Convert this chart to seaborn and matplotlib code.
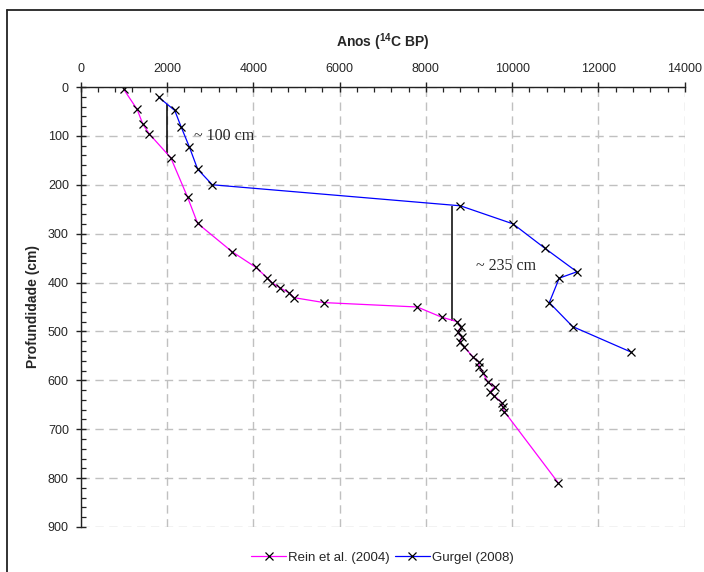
"""Depth vs radiocarbon age profile (Rein et al. 2004 vs Gurgel 2008)"""

import numpy as np
import pandas as pd
import seaborn as sns
import matplotlib.pyplot as plt
from matplotlib.lines import Line2D
from matplotlib.ticker import MultipleLocator

# data
rein_age = [1000, 1310, 1440, 1590, 2090, 2480, 2710, 3510, 4060, 4320, 4430,
            4620, 4830, 4950, 5640, 7800, 8370, 8730, 8810, 8740, 8830, 8790,
            8890, 9100, 9220, 9240, 9320, 9430, 9600, 9490, 9590, 9760, 9780,
            9820, 11070]
rein_depth = [5, 46, 76, 96, 145, 226, 279, 337, 369, 390, 400,
              411, 421, 431, 441, 450, 471, 480, 491, 502, 511, 522,
              532, 553, 562, 572, 584, 603, 613, 623, 632, 646, 655,
              664, 810]

gurgel_age = [1810, 2180, 2330, 2520, 2710, 3050, 8800, 10020, 10760, 11500,
              11090, 10860, 11400, 12750]
gurgel_depth = [21, 48, 82, 123, 168, 200, 243, 280, 330, 378,
                391, 441, 490, 542]

gap_x = [2000, 8610]
gap_top = [35, 243]
gap_bottom = [138, 478]
gap_labels = ['~ 100 cm', '~ 235 cm']
gap_label_x = [2620, 9160]
gap_label_y = [100, 366]

sns.set_style('white')
plt.rcParams['font.family'] = ['Liberation Sans', 'DejaVu Sans']
plt.rcParams['mathtext.fontset'] = 'custom'
plt.rcParams['mathtext.bf'] = 'Liberation Sans:bold'

rein = pd.DataFrame({'age': rein_age, 'depth': rein_depth})
gurgel = pd.DataFrame({'age': gurgel_age, 'depth': gurgel_depth})

fig = plt.figure(figsize=(7.04, 5.72), dpi=100)
ax = fig.add_axes([0.1146, 0.0787, 0.8581, 0.7692])

line_kw = dict(sort=False, estimator=None, marker='x', markersize=6,
               markeredgecolor='black', markeredgewidth=0.9, linewidth=0.9, ax=ax)
sns.lineplot(data=rein, x='age', y='depth', color='#ff00ff',
             label='Rein et al. (2004)', **line_kw)
sns.lineplot(data=gurgel, x='age', y='depth', color='#0000ff',
             label='Gurgel (2008)', **line_kw)

# offset between the two cores
ax.vlines(gap_x, gap_top, gap_bottom, color='black', linewidth=1.1, zorder=1)
for lx, ly, txt in zip(gap_label_x, gap_label_y, gap_labels):
    ax.text(lx, ly, txt, family='Liberation Serif', fontsize=11.5, va='center')

ax.set_xlim(0, 14000)
ax.set_ylim(900, 0)
ax.xaxis.set_major_locator(MultipleLocator(2000))
ax.xaxis.set_minor_locator(MultipleLocator(400))
ax.yaxis.set_major_locator(MultipleLocator(100))
ax.yaxis.set_minor_locator(MultipleLocator(20))
ax.xaxis.tick_top()
ax.xaxis.set_label_position('top')

for s in ['right', 'bottom']:
    ax.spines[s].set_visible(False)
for s in ['top', 'left']:
    ax.spines[s].set_color('#222222')
    ax.spines[s].set_linewidth(1.0)

ax.tick_params(which='major', direction='inout', length=7, width=1.0,
               color='#222222', labelsize=9, pad=5)
ax.tick_params(which='minor', direction='in', length=3.5, width=0.9,
               color='#222222')
ax.tick_params(axis='x', which='both', top=True, bottom=False)
ax.tick_params(axis='y', which='both', left=True, right=False)

ax.grid(True, which='major', color='#c0c0c0', linestyle=(0, (6, 4)), linewidth=1.0)
ax.set_axisbelow(True)

ax.set_xlabel(r'Anos ($\mathbf{^{14}}$C BP)', fontsize=10, fontweight='bold', labelpad=12)
ax.set_ylabel('Profundidade (cm)', fontsize=10, fontweight='bold', labelpad=6)

ax.legend(loc='center', bbox_to_anchor=(0.5, -0.07), ncol=2, frameon=False,
          fontsize=9.5, handlelength=2.6, columnspacing=0.4, handletextpad=0.2,
          borderaxespad=0)

# chart frame (clipped on the right and bottom in the source)
fig.add_artist(Line2D([7 / 704, 7 / 704], [0, 1 - 10 / 572], color='#222222', lw=1.3))
fig.add_artist(Line2D([7 / 704, 1], [1 - 10 / 572, 1 - 10 / 572], color='#222222', lw=1.3))

fig.savefig('out.png', dpi=100)
